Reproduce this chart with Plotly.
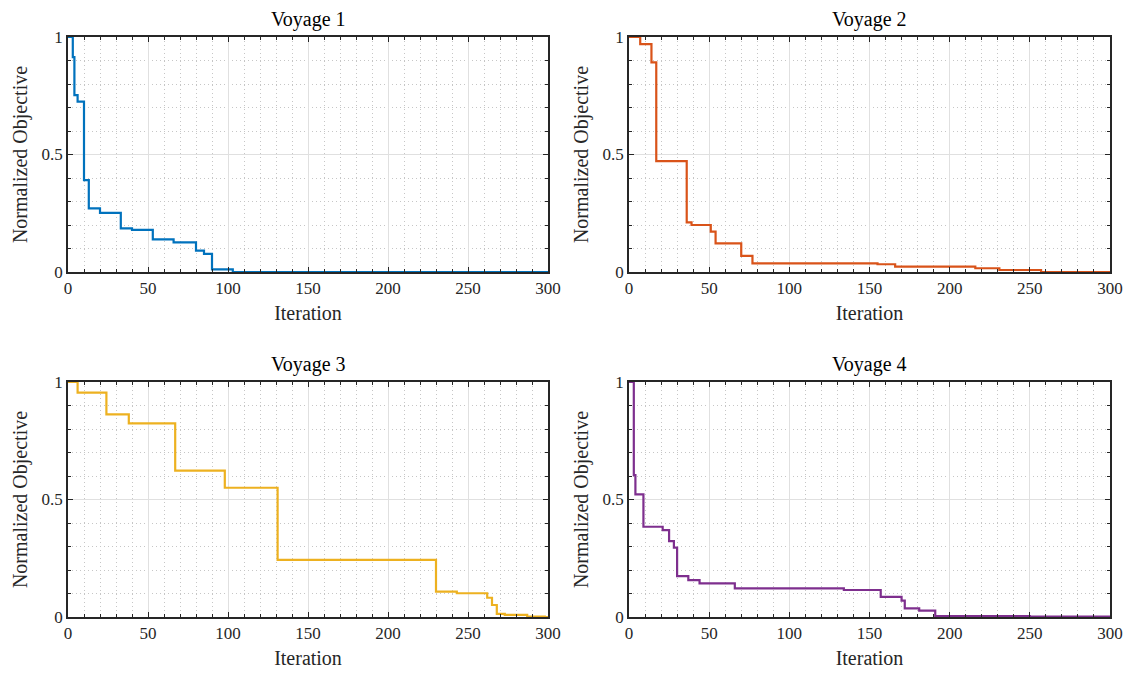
import plotly.graph_objects as go

# ---- data ----
v1_x = [0, 3, 4, 6, 10, 13, 20, 33, 40, 53, 66, 80, 85, 90, 103, 300]
v1_y = [1.0, 0.914, 0.753, 0.725, 0.391, 0.271, 0.252, 0.186, 0.179, 0.139, 0.126, 0.091, 0.077, 0.011, 0.0, 0.0]

v2_x = [0, 7, 14, 17, 36, 39, 51, 54, 70, 77, 155, 166, 216, 231, 257, 300]
v2_y = [1.0, 0.970, 0.892, 0.472, 0.211, 0.200, 0.172, 0.122, 0.069, 0.037, 0.033, 0.023, 0.016, 0.0085, 0.0, 0.0]

v3_x = [0, 6, 24, 38, 67, 98, 131, 230, 243, 262, 265, 268, 273, 287, 298, 300]
v3_y = [1.0, 0.955, 0.862, 0.824, 0.623, 0.550, 0.243, 0.108, 0.101, 0.082, 0.051, 0.013, 0.009, 0.002, 0.0, 0.0]

v4_x = [0, 2, 3, 4, 9, 21, 25, 28, 30, 37, 44, 66, 134, 157, 170, 172, 181, 191, 250, 300]
v4_y = [1.0, 1.0, 0.604, 0.522, 0.384, 0.370, 0.323, 0.295, 0.174, 0.157, 0.143, 0.122, 0.115, 0.086, 0.070, 0.037, 0.027, 0.004, 0.002, 0.0]

titles = ["Voyage 1", "Voyage 2", "Voyage 3", "Voyage 4"]
colors = ["#0072BD", "#D95319", "#EDB120", "#7E2F8E"]
x_ticks = [0, 50, 100, 150, 200, 250, 300]
y_ticks = [0, 0.5, 1]
y_tick_labels = ["0", "0.5", "1"]

series = [(v1_x, v1_y), (v2_x, v2_y), (v3_x, v3_y), (v4_x, v4_y)]

W, H = 1130, 674
FONT = "Liberation Serif"
AX = "#262626"

xdom = [[68 / W, 548 / W], [629 / W, 1110 / W]]
ydom = [[1 - 272 / H, 1 - 37 / H], [1 - 617 / H, 1 - 382 / H]]

fig = go.Figure()
annotations = []
for i, ((xs, ys), title, col) in enumerate(zip(series, titles, colors)):
    r, c = divmod(i, 2)
    n = i + 1
    xa = "x" if n == 1 else f"x{n}"
    ya = "y" if n == 1 else f"y{n}"
    fig.add_trace(go.Scatter(x=xs, y=ys, mode="lines", line=dict(color=col, width=2.2, shape="hv"),
                             xaxis=xa, yaxis=ya, showlegend=False, hoverinfo="skip"))
    common = dict(
        showline=True, linecolor=AX, linewidth=1.8, mirror="ticks",
        ticks="inside", ticklen=5, tickwidth=1.3, tickcolor=AX,
        showgrid=True, gridcolor="#e0e0e0", gridwidth=1,
        zeroline=False, tickfont=dict(family=FONT, size=17, color=AX),
        layer="above traces", automargin=False,
    )
    fig.layout[f"xaxis{'' if n == 1 else n}"] = dict(
        common, domain=xdom[c], anchor=ya, range=[0, 300],
        tickvals=x_ticks, ticktext=[str(t) for t in x_ticks],
        minor=dict(dtick=10, tick0=0, ticks="inside", ticklen=3, tickcolor=AX, tickwidth=1,
                   showgrid=True, gridcolor="#c6c6c6", griddash="1px,3px", gridwidth=1),
        title=dict(text="Iteration", font=dict(family=FONT, size=20, color=AX), standoff=9),
    )
    fig.layout[f"yaxis{'' if n == 1 else n}"] = dict(
        common, domain=ydom[r], anchor=xa, range=[0, 1],
        tickvals=y_ticks, ticktext=y_tick_labels,
        minor=dict(dtick=0.1, tick0=0, ticks="inside", ticklen=3, tickcolor=AX, tickwidth=1,
                   showgrid=True, gridcolor="#c6c6c6", griddash="1px,3px", gridwidth=1),
        title=dict(text="Normalized Objective", font=dict(family=FONT, size=20, color=AX), standoff=8),
    )
    annotations.append(dict(text=title, x=(xdom[c][0] + xdom[c][1]) / 2, y=ydom[r][1],
                            xref="paper", yref="paper", xanchor="center", yanchor="bottom",
                            yshift=4, showarrow=False, font=dict(family=FONT, size=20, color="black")))

fig.update_layout(width=W, height=H, margin=dict(l=0, r=0, t=0, b=0),
                  plot_bgcolor="white", paper_bgcolor="white", annotations=annotations)
fig.write_html("out.html")
